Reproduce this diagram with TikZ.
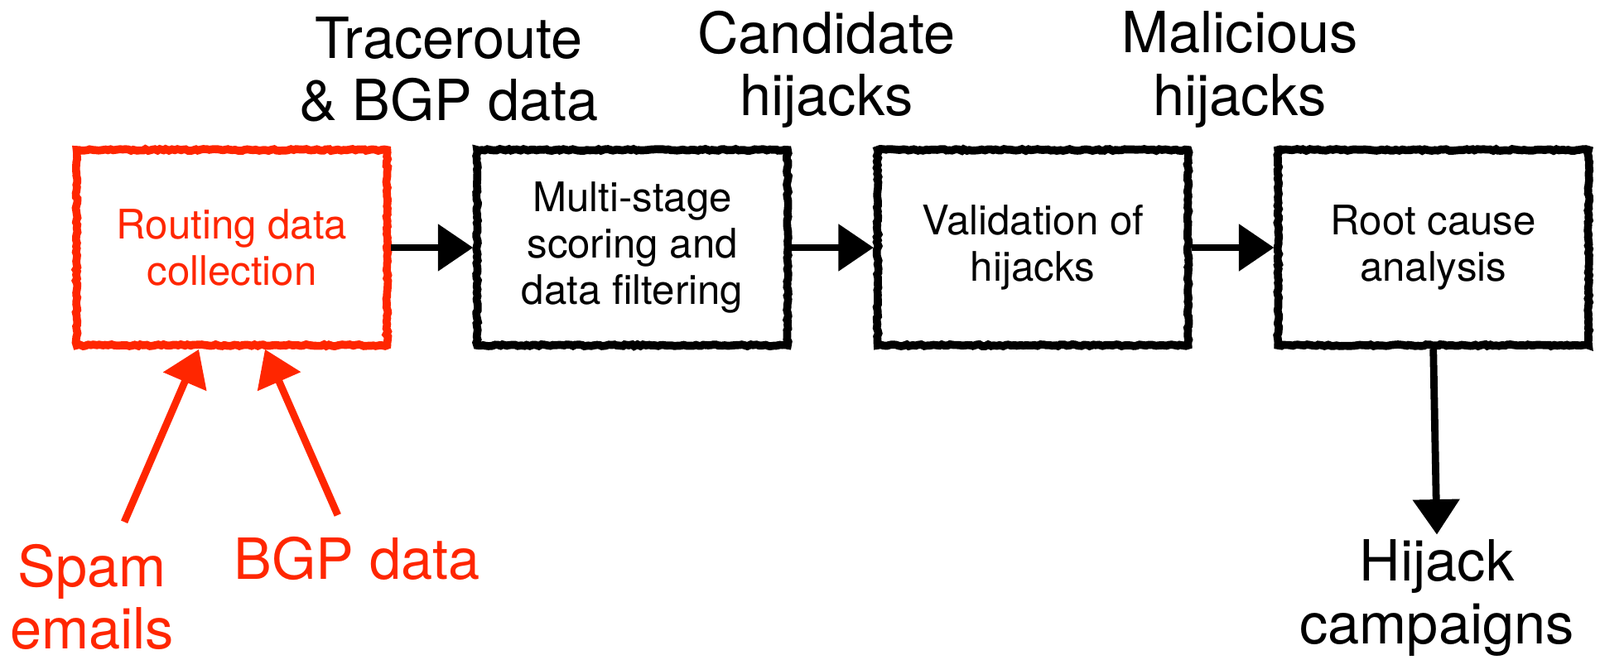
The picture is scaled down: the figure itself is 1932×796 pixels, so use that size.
\documentclass[tikz,border=0pt]{standalone}
\usepackage{fontspec}
\setmainfont{TeX Gyre Heros}
\usepackage{tikz}
\usetikzlibrary{positioning,arrows.meta,decorations.pathmorphing}
\definecolor{sketchred}{RGB}{255,38,0}

\begin{document}
\begin{tikzpicture}
        [%%%%%%%%%%%%%%%%%%%%%%%%%%%%%%
        x=0.02cm, y=-0.02cm,
        stage/.style={draw=black, line width=5.5pt, minimum width=7.5cm, minimum height=4.72cm,
          align=center, font=\fontsize{28}{32}\selectfont,
          decorate, decoration={random steps, segment length=2pt, amplitude=0.6pt}},
        big/.style={align=center, font=\fontsize{39}{43}\selectfont},
        flow/.style={line width=5pt, -{Triangle[length=0.85cm, width=1.1cm]}},
        node distance=1.98cm,
        ]%%%%%%%%%%%%%%%%%%%%%%%%%%%%%%
        \useasboundingbox (0,0) rectangle (1932,796);

        % pipeline stages
        \node[stage, draw=sketchred, text=sketchred] (collect) at (280,299) {Routing data\\collection};
        \node[stage, right=of collect] (score) {Multi-stage\\scoring and\\data filtering};
        \node[stage, right=of score] (valid) {Validation of\\hijacks};
        \node[stage, right=of valid] (cause) {Root cause\\analysis};

        % labels over the arrows
        \node[big] (trace) at (542,84) {Traceroute\\\& BGP data};
        \node[big] (cand) at (998,84) {Candidate\\hijacks};
        \node[big] (mal) at (1497,84) {Malicious\\hijacks};

        % inputs and output
        \node[big, text=sketchred] (spam) at (111,721) {Spam\\emails};
        \node[big, text=sketchred] (bgp) at (431,675) {BGP data};
        \node[big] (camp) at (1735,722) {Hijack\\campaigns};

        \draw[flow] (collect) -- (score);
        \draw[flow] (score) -- (valid);
        \draw[flow] (valid) -- (cause);
        \draw[flow] (cause.south) -- (camp.north);
        \draw[flow, sketchred, shorten <=0.45cm] (spam) -- ([xshift=-0.8cm]collect.south);
        \draw[flow, sketchred, shorten <=0.45cm] (bgp) -- ([xshift=0.8cm]collect.south);

      \end{tikzpicture}
\end{document}
